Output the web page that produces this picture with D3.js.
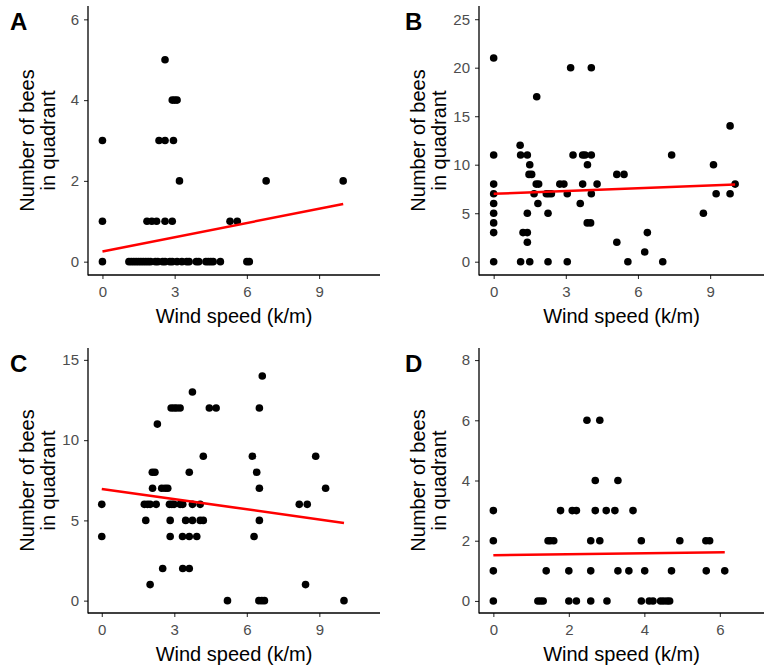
<!DOCTYPE html>
<html>
<head>
<meta charset="utf-8">
<script src="https://cdn.jsdelivr.net/npm/d3@7"></script>
<style>
  body { margin: 0; background: #fff; }
  svg { display: block; font-family: "Liberation Sans", Arial, sans-serif; }
</style>
</head>
<body>
<div id="chart"></div>
<script>
// points: [wind speed, bees]
var pointsA = [
  [0,0],[1.1,0],[1.2,0],[1.3,0],[1.4,0],[1.5,0],[1.6,0],[1.7,0],[1.8,0],[1.9,0],[2.0,0],[2.2,0],[2.3,0],[2.5,0],[2.6,0],
  [2.8,0],[2.9,0],[3.1,0],[3.3,0],[3.5,0],[3.6,0],[3.9,0],[4.0,0],[4.3,0],[4.4,0],[4.5,0],[4.6,0],[4.9,0],[6.0,0],[6.1,0],
  [0,1],[1.85,1],[2.05,1],[2.25,1],[2.6,1],[2.9,1],[5.3,1],[5.6,1],
  [3.2,2],[6.8,2],[10.0,2],
  [0,3],[2.35,3],[2.6,3],[2.95,3],
  [2.9,4],[3.0,4],[3.1,4],
  [2.6,5]
];
var pointsB = [
  [0,21],[0,11],[0,8],[0,7],[0,6],[0,5],[0,4],[0,3],[0,0],
  [1.1,12],
  [1.12,11],[1.4,11],[3.3,11],[3.7,11],[3.8,11],[4.06,11],[7.4,11],
  [1.5,10],[3.9,10],[9.14,10],
  [1.47,9],[1.58,9],[5.12,9],[5.42,9],
  [1.77,8],[1.87,8],[2.75,8],[2.92,8],[3.7,8],[4.3,8],[10.04,8],
  [1.68,7],[2.19,7],[2.29,7],[2.4,7],[3.06,7],[4.06,7],[9.25,7],[9.83,7],
  [1.84,6],[3.6,6],
  [1.4,5],[2.26,5],[8.72,5],
  [3.89,4],[4.03,4],
  [1.22,3],[1.4,3],[6.39,3],
  [1.4,2],[5.12,2],
  [6.28,1],
  [1.12,0],[1.5,0],[2.26,0],[3.06,0],[5.58,0],[7.03,0],
  [9.83,14],[1.79,17],[3.2,20],[4.06,20]
];
var pointsC = [
  [0,6],[0,4],
  [6.64,14],[3.75,13],
  [2.87,12],[2.99,12],[3.1,12],[3.24,12],[4.45,12],[4.73,12],[6.52,12],
  [2.3,11],
  [4.2,9],[6.23,9],[8.85,9],
  [2.09,8],[2.2,8],[3.62,8],[6.41,8],
  [2.1,7],[2.48,7],[2.62,7],[2.73,7],[6.52,7],[9.26,7],
  [1.76,6],[1.89,6],[2.0,6],[2.25,6],[2.8,6],[2.9,6],[2.99,6],[3.24,6],[3.35,6],[3.75,6],[4.07,6],[8.17,6],[8.5,6],
  [1.82,5],[2.83,5],[3.47,5],[3.75,5],[4.07,5],[4.2,5],[6.52,5],
  [2.83,4],[3.34,4],[3.62,4],[3.93,4],[6.3,4],
  [2.52,2],[3.35,2],[3.62,2],
  [2.0,1],[8.43,1],
  [5.2,0],[6.5,0],[6.62,0],[6.73,0],[10.02,0]
];
var pointsD = [
  [0,3],[0,2],[0,1],[0,0],
  [2.48,6],[2.82,6],
  [2.7,4],[3.3,4],
  [1.78,3],[2.09,3],[2.2,3],[2.7,3],[2.99,3],[3.22,3],[3.7,3],
  [1.45,2],[1.51,2],[1.6,2],[2.58,2],[2.82,2],[3.92,2],[4.94,2],[5.63,2],[5.73,2],
  [1.4,1],[2.0,1],[2.58,1],[3.3,1],[3.59,1],[4.01,1],[4.72,1],[5.64,1],[6.13,1],
  [1.18,0],[1.25,0],[1.32,0],[2.0,0],[2.2,0],[2.58,0],[3.01,0],[3.92,0],[4.13,0],[4.23,0],
  [4.43,0],[4.51,0],[4.6,0],[4.67,0]
];

// fitted line ends (linear fit, red)
var fitA = [[0, 0.25], [10.0, 1.43]];
var fitB = [[0, 7.0], [10.04, 7.95]];
var fitC = [[0, 6.96], [10.02, 4.84]];
var fitD = [[0, 1.52], [6.13, 1.62]];

var ticksA = [0, 2, 4, 6], ticksB = [0, 5, 10, 15, 20, 25];
var ticksC = [0, 5, 10, 15], ticksD = [0, 2, 4, 6, 8];
var xTicks = [0, 3, 6, 9], xTicksD = [0, 2, 4, 6];

var W = 764, H = 670;
var svg = d3.select("#chart").append("svg").attr("width", W).attr("height", H);

var panels = [
  {lab: "A", pts: pointsA, fit: fitA, xt: xTicks, yt: ticksA, xd: [-0.6, 11.53], yd: [-0.33, 6.33],
   box: {l: 88, r: 380, t: 6, b: 275}, off: 0, labX: 10},
  {lab: "B", pts: pointsB, fit: fitB, xt: xTicks, yt: ticksB, xd: [-0.61, 11.24], yd: [-1.37, 26.36],
   box: {l: 479, r: 764, t: 6, b: 275}, off: 391, labX: 405},
  {lab: "C", pts: pointsC, fit: fitC, xt: xTicks, yt: ticksC, xd: [-0.57, 11.51], yd: [-0.77, 15.74],
   box: {l: 88, r: 380, t: 348, b: 613}, off: 0, labX: 10},
  {lab: "D", pts: pointsD, fit: fitD, xt: xTicksD, yt: ticksD, xd: [-0.38, 7.17], yd: [-0.4, 8.4],
   box: {l: 479, r: 764, t: 348, b: 613}, off: 391, labX: 405}
];

panels.forEach(function(p) {
  var x = d3.scaleLinear().domain(p.xd).range([p.box.l, p.box.r]);
  var y = d3.scaleLinear().domain(p.yd).range([p.box.b, p.box.t]);
  var g = svg.append("g");

  // axes
  var gx = g.append("g").attr("transform", "translate(0," + p.box.b + ")")
    .call(d3.axisBottom(x).tickValues(p.xt).tickFormat(d3.format("d")).tickSize(4).tickPadding(7).tickSizeOuter(0));
  var gy = g.append("g").attr("transform", "translate(" + p.box.l + ",0)")
    .call(d3.axisLeft(y).tickValues(p.yt).tickFormat(d3.format("d")).tickSize(4).tickPadding(5).tickSizeOuter(0));
  [gx, gy].forEach(function(a) {
    a.select(".domain").remove();
    a.selectAll(".tick line").attr("stroke", "#333").attr("stroke-width", 1.1);
    a.selectAll(".tick text").attr("fill", "#4d4d4d").style("font-size", "15px");
  });
  // y axis line runs full height, x axis line starts at y axis
  g.append("line").attr("x1", p.box.l).attr("x2", p.box.l).attr("y1", p.box.t).attr("y2", p.box.b + 0.6)
    .attr("stroke", "#000").attr("stroke-width", 1.3);
  g.append("line").attr("x1", p.box.l).attr("x2", p.box.r).attr("y1", p.box.b).attr("y2", p.box.b)
    .attr("stroke", "#000").attr("stroke-width", 1.3);

  // points
  g.append("g").selectAll("circle")
    .data(p.pts)
    .enter()
    .append("circle")
    .attr("cx", d => x(d[0]))
    .attr("cy", d => y(d[1]))
    .attr("r", 3.8)
    .attr("fill", "#000");

  // fit line
  g.append("path")
    .datum(p.fit)
    .attr("d", d3.line().x(d => x(d[0])).y(d => y(d[1])))
    .attr("fill", "none")
    .attr("stroke", "#ff0000")
    .attr("stroke-width", 2.5);

  // titles
  var cx = (p.box.l + p.box.r) / 2;
  g.append("text").attr("x", cx).attr("y", p.box.b + 48)
    .attr("text-anchor", "middle").style("font-size", "20px").attr("fill", "#000")
    .text("Wind speed (k/m)");
  var cy = (p.box.t + p.box.b) / 2;
  var yt = g.append("text").attr("transform", "translate(" + (p.off + 34) + "," + cy + ") rotate(-90)")
    .attr("text-anchor", "middle").style("font-size", "20px").attr("fill", "#000");
  yt.append("tspan").attr("x", 0).attr("dy", 0).text("Number of bees");
  yt.append("tspan").attr("x", 0).attr("dy", 21).text("in quadrant");

  g.append("text").attr("x", p.labX).attr("y", p.box.t + 24)
    .style("font-size", "24px").style("font-weight", "bold").attr("fill", "#000")
    .text(p.lab);
});
</script>
</body>
</html>
